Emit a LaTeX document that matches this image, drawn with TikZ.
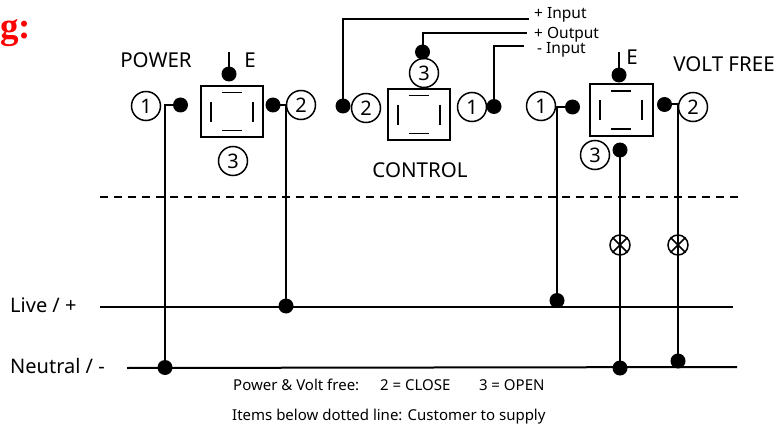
\documentclass[tikz,border=0pt]{standalone}
\usepackage{fontspec}
\setmainfont{Noto Sans}
\newfontfamily\headfont{Liberation Serif}
\begin{document}
\begin{tikzpicture}[x=1pt,y=-1pt,
  wire/.style={line width=2pt,black},
  dotn/.style={circle,fill=black,draw=none,minimum size=15pt,inner sep=0pt},
  num/.style={circle,draw=black,line width=1.5pt,minimum size=29pt,inner sep=0pt,font=\fontsize{20}{20}\selectfont},
  relay/.style={draw=black,line width=2pt,minimum width=0pt,inner sep=0pt,fill=white},
  seg/.style={line width=1.5pt,black},
  lab/.style={inner sep=0pt,font=\fontsize{20.5}{20.5}\selectfont},
  smalllab/.style={inner sep=0pt,anchor=west,font=\fontsize{15.5}{15.5}\selectfont},
  notelab/.style={inner sep=0pt,anchor=west,font=\fontsize{15}{15}\selectfont},
  lamp/.style={circle,draw=black,line width=1.5pt,minimum size=20pt,inner sep=0pt}]
\useasboundingbox (0,0) rectangle (776,425);
% heading
\node[anchor=west,inner sep=0pt,text=red,font=\headfont\bfseries\fontsize{37}{37}\selectfont] (head) at (0,33) {g:};
% relay boxes
\node[relay,minimum width=62.5pt,minimum height=50.5pt] (boxa) at (231.75,111.75) {};
\node[relay,minimum width=62.5pt,minimum height=51.5pt] (boxb) at (418.75,114.75) {};
\node[relay,minimum width=63pt,minimum height=52pt] (boxc) at (621,110) {};
\foreach \b/\c/\d/\h in {boxa/231.75/111.75/0,boxb/418.75/114.75/0,boxc/621/110/0}{
  \draw[seg] (\c-10,\d-19) -- (\c+10,\d-19);
  \draw[seg] (\c-10,\d+19) -- (\c+10,\d+19);
  \draw[seg] (\c-21,\d-10) -- (\c-21,\d+10);
  \draw[seg] (\c+21,\d-10) -- (\c+21,\d+10);
}
% power
\node[lab] (power) at (156,60) {POWER};
\node[lab] (ea) at (250,60) {E};
\coordinate (eatop) at (229,52);
\node[dotn] (ead) at (229,74) {};
\node[num] (a1) at (146,106) {1};
\node[dotn] (a1d) at (180.5,105) {};
\node[num] (a2) at (301,105) {2};
\node[dotn] (a2d) at (273,105) {};
\node[num] (a3) at (233,161) {3};
% control
\node[num] (b2) at (366,108) {2};
\node[dotn] (b2d) at (343,106) {};
\node[num,fill=white] (b3) at (424,73) {3};
\node[dotn] (b3d) at (422.5,52) {};
\node[num] (b1) at (472,107) {1};
\node[dotn] (b1d) at (494,106.5) {};
\node[lab] (control) at (420,170) {CONTROL};
\node[smalllab] (ip) at (534,15) {+ Input};
\node[smalllab] (op) at (534,34.5) {+ Output};
\node[smalllab] (im) at (537,50) {- Input};
\coordinate (ipe) at (529,19.5);
\coordinate (ope) at (527,33);
\coordinate (ime) at (524,46);
% volt free
\node[lab] (ec) at (632,57) {E};
\node[lab] (vf) at (724,64) {VOLT FREE};
\coordinate (ectop) at (619,52);
\node[dotn] (ecd) at (619,75) {};
\node[num] (c1) at (541,106) {1};
\node[dotn] (c1d) at (572.5,107) {};
\node[num] (c2) at (693,107) {2};
\node[dotn] (c2d) at (664.5,104.5) {};
\node[num] (c3) at (595,155) {3};
\node[dotn] (c3d) at (620,150) {};
% lamps
\node[lamp] (la) at (620,245) {};
\node[lamp] (lb) at (678,245) {};
\foreach \l in {la,lb}{
  \draw[seg] (\l.45) -- (\l.225);
  \draw[seg] (\l.135) -- (\l.315);
}
% rails
\coordinate (lives) at (100,306.5);
\coordinate (livee) at (733,306.5);
\coordinate (neuts) at (127,368);
\coordinate (neute) at (737,367);
\node[dotn] (j1) at (165,367.5) {};
\node[dotn] (j2) at (286,306) {};
\node[dotn] (j3) at (557,300.5) {};
\node[dotn] (j4) at (620,368) {};
\node[dotn] (j5) at (678,361) {};
\draw[wire] (lives) -- (livee);
\draw[wire] (neuts) -- (neute);
% connectors
\draw[wire] (eatop) -- (ead.center);
\draw[wire] (ectop) -- (ecd.center);
\draw[wire] (a1d.center) -| (j1.center);
\draw[wire] (a2d.center) -| (j2.center);
\draw[wire] (b2d.center) |- (ipe);
\draw[wire] (b3d.center) |- (ope);
\draw[wire] (b1d.center) |- (ime);
\draw[wire] (c1d.center) -| (j3.center);
\draw[wire] (c2d.center) -| (j5.center);
\draw[wire] (c3d.center) -- (j4.center);
% dashed
\coordinate (dashs) at (100,197);
\coordinate (dashe) at (738,197);
\draw[line width=1.5pt,dash pattern=on 8pt off 6pt] (dashs) -- (dashe);
% labels
\node[inner sep=0pt,anchor=west,font=\fontsize{20}{20}\selectfont] (live) at (10,305) {Live / +};
\node[inner sep=0pt,anchor=west,font=\fontsize{20}{20}\selectfont] (neut) at (10,366) {Neutral / -};
\node[notelab] (n1) at (233,385) {Power \& Volt free:\hspace{1.4em}2 = CLOSE\hspace{1.9em}3 = OPEN};
\node[notelab] (n2) at (232,417) {Items below dotted line: Customer to supply};
\end{tikzpicture}
\end{document}
